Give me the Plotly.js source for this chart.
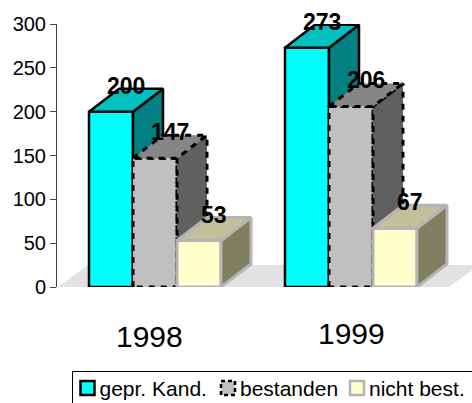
<!DOCTYPE html>
<html>
<head>
<meta charset="utf-8">
<script src="https://cdn.plot.ly/plotly-3.0.1.min.js"></script>
<style>html,body{margin:0;padding:0;background:#fff;overflow:hidden}#c{width:472px;height:403px}</style>
</head>
<body>
<div id="c"></div>
<script>
var categories = ["1998", "1999"];
var seriesNames = ["gepr. Kand.", "bestanden", "nicht best."];
var gepr = [200, 273];
var bestanden = [147, 206];
var nichtBest = [53, 67];
var tickValues = [0, 50, 100, 150, 200, 250, 300];

var W = 472, H = 403, L = 57, T = 24, B = 116;
var plotW = W - L, plotH = H - T - B;
var yMax = 300;
var groupPx = 196, barPx = 44, depthXPx = 30, depthYPx = 23;
var xMin = -0.5, xMax = xMin + plotW / groupPx;
var bw = barPx / groupPx, dx = depthXPx / groupPx, dy = depthYPx * yMax / plotH;
var groupIdx = categories.map(function (_, i) { return i; });
var FONT = "Liberation Sans, Arial, sans-serif";

var styles = [
  { front: "#00ffff", top: "#00c0c0", side: "#008080", line: "#000000", w: 2.5, dash: "solid" },
  { front: "#c0c0c0", top: "#868686", side: "#606060", line: "#000000", w: 3, dash: "6px,6px" },
  { front: "#ffffcc", top: "#c0c09a", side: "#808060", line: "#b4b4b4", w: 3, dash: "solid" }
];
var allSeries = [gepr, bestanden, nichtBest];
var data = [], annotations = [];
var axisSuffix = ["", "2", "3"];

allSeries.forEach(function (vals, s) {
  var st = styles[s];
  var xa = "x" + axisSuffix[s], ya = "y" + axisSuffix[s];
  var left = groupIdx.map(function (g) { return g - 1.5 * bw + s * bw; });
  data.push({
    type: "bar", name: seriesNames[s], x: left, y: vals, width: bw, offset: 0,
    xaxis: xa, yaxis: ya, cliponaxis: false,
    marker: { color: st.front, line: { color: st.line, width: st.w } },
    hoverinfo: "skip"
  });
  vals.forEach(function (v, i) {
    var x0 = left[i], x1 = x0 + bw;
    data.push({
      type: "scatter", mode: "lines", fill: "toself", fillcolor: st.side, showlegend: false,
      x: [x1, x1 + dx, x1 + dx, x1, x1], y: [0, dy, v + dy, v, 0],
      xaxis: xa, yaxis: ya, cliponaxis: false, hoverinfo: "skip",
      line: { color: st.line, width: st.w, dash: st.dash }
    });
    data.push({
      type: "scatter", mode: "lines", fill: "toself", fillcolor: st.top, showlegend: false,
      x: [x0, x0 + dx, x1 + dx, x1, x0], y: [v, v + dy, v + dy, v, v],
      xaxis: xa, yaxis: ya, cliponaxis: false, hoverinfo: "skip",
      line: { color: st.line, width: st.w, dash: st.dash }
    });
    annotations.push({
      x: x0 + bw / 2, y: v, xref: "x", yref: "y", showarrow: false,
      xshift: 15, yshift: 26, font: { family: FONT, size: 23, color: "#000" },
      text: "<b>" + v + "</b>"
    });
  });
});

// category labels sit at slightly different heights in the reference
[[-5.5, -49], [0, -46]].forEach(function (shift, i) {
  annotations.push({
    x: groupIdx[i], y: 0, xref: "x", yref: "y", text: categories[i], showarrow: false,
    xshift: shift[0], yshift: shift[1],
    font: { family: FONT, size: 30, color: "#000" }
  });
});

var axisBase = { range: [xMin, xMax], visible: false, fixedrange: true };
var yBase = { range: [0, yMax], visible: false, fixedrange: true };
var floorLeft = xMin + 1 / groupPx, floorRun = 30 / groupPx, floorEnd = 1.5;

var layout = {
  width: W, height: H,
  margin: { l: L, r: 0, t: T, b: B, pad: 0 },
  paper_bgcolor: "#fff", plot_bgcolor: "rgba(0,0,0,0)",
  showlegend: true,
  legend: {
    orientation: "h", xref: "container", yref: "container",
    x: 72 / W, y: 1 - 371 / H, xanchor: "left", yanchor: "top",
    bgcolor: "#fff", bordercolor: "#000", borderwidth: 1,
    font: { family: FONT, size: 21, color: "#000" },
    itemwidth: 30, entrywidth: 85, entrywidthmode: "pixels", traceorder: "normal"
  },
  xaxis: axisBase,
  yaxis: {
    range: [0, yMax], tickvals: tickValues, ticks: "outside", ticklen: 6, tickwidth: 1,
    tickcolor: "#404040", showline: true, linecolor: "#404040", linewidth: 1, showgrid: false,
    zeroline: false, fixedrange: true,
    tickfont: { family: FONT, size: 20, color: "#000" }
  },
  xaxis2: Object.assign({ overlaying: "x" }, axisBase),
  yaxis2: Object.assign({ overlaying: "y", anchor: "x2" }, yBase),
  xaxis3: Object.assign({ overlaying: "x" }, axisBase),
  yaxis3: Object.assign({ overlaying: "y", anchor: "x3" }, yBase),
  shapes: [{
    type: "path", xref: "x", yref: "y", layer: "below", line: { width: 0 }, fillcolor: "#e2e2e2",
    path: "M" + floorLeft + " 0 L" + (floorLeft + floorRun) + " " + (22 * yMax / plotH) +
      " L" + (floorEnd + floorRun) + " " + (22 * yMax / plotH) + " L" + floorEnd + " 0 Z"
  }],
  annotations: annotations
};

Plotly.newPlot("c", data, layout, { displayModeBar: false, staticPlot: true }).then(function () {
  var root = document.getElementById("c");
  var groups = root.querySelectorAll(".barlayer .trace");
  if (groups[1]) groups[1].querySelectorAll("path").forEach(function (p) { p.style.strokeDasharray = styles[1].dash; });

  // tighten the legend to the reference's compact swatch + text spacing
  var legend = root.querySelector(".legend");
  var scroll = legend.querySelector(".scrollbox");
  if (scroll) scroll.removeAttribute("clip-path");
  var bg = legend.querySelector(".bg");
  bg.setAttribute("width", 600);
  bg.setAttribute("height", 80);
  var swatchCenters = [87.5, 228, 357], swatchMidY = 388;
  var rootBox = root.getBoundingClientRect();
  legend.querySelectorAll(".traces").forEach(function (tr, i) {
    var path = tr.querySelector(".legendbar path") || tr.querySelector("path");
    path.setAttribute("d", "M7,7H-7V-7H7Z");
    path.style.strokeWidth = Math.min(styles[i].w, 2.5) + "px";
    if (i === 1) path.style.strokeDasharray = "4px,3px";
    var text = tr.querySelector(".legendtext");
    text.setAttribute("x", parseFloat(text.getAttribute("x")) - 8);
    var m = /translate\(([-\d.]+)[ ,]*([-\d.]*)\)/.exec(tr.getAttribute("transform") || "");
    var a = m ? parseFloat(m[1]) : 0, b = m && m[2] ? parseFloat(m[2]) : 0;
    var r = path.getBoundingClientRect();
    var cx = r.left + r.width / 2 - rootBox.left, cy = r.top + r.height / 2 - rootBox.top;
    tr.setAttribute("transform", "translate(" + (a + swatchCenters[i] - cx) + "," + (b + swatchMidY - cy) + ")");
  });
});
</script>
</body>
</html>
